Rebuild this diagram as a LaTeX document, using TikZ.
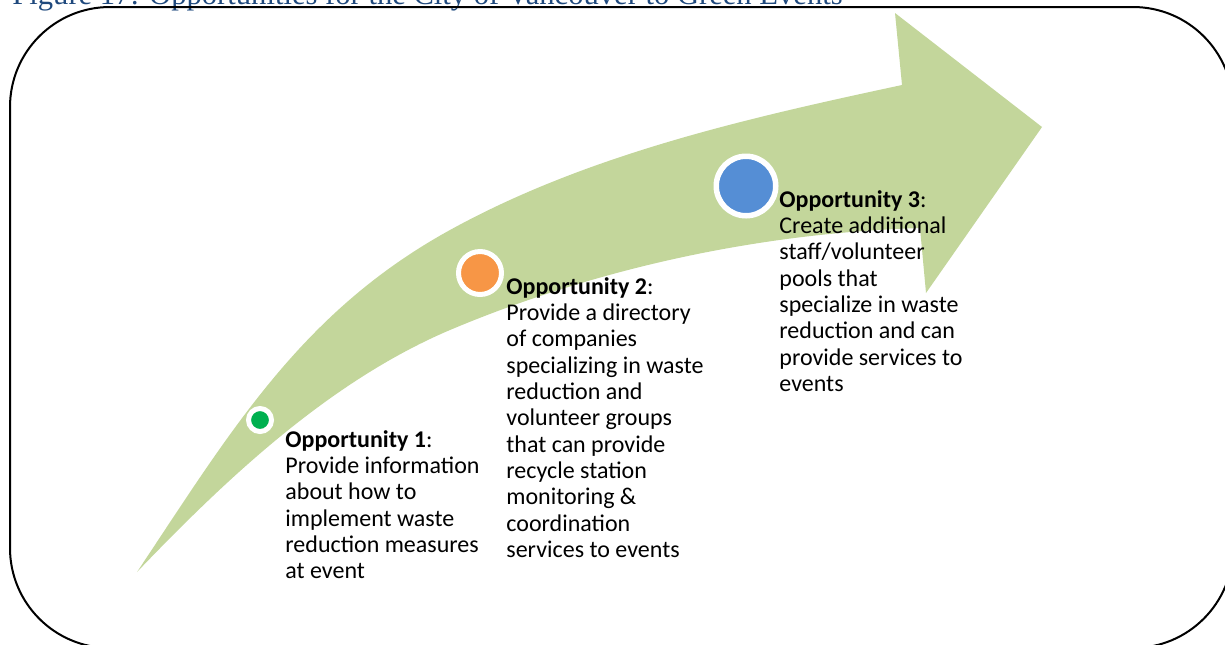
\documentclass[tikz,border=0pt]{standalone}
\usepackage{fontspec}
\setmainfont{Carlito}
\newfontfamily\capfont{Liberation Serif}
\usetikzlibrary{positioning}
\definecolor{arrowgreen}{HTML}{C3D69B}
\definecolor{dotgreen}{HTML}{00B050}
\definecolor{dotorange}{HTML}{F79646}
\definecolor{dotblue}{HTML}{558ED5}
\definecolor{capblue}{HTML}{1F497D}
\tikzset{
	oppdot/.style={circle, draw=white, line width=2.5pt, inner sep=0pt},
	opptext/.style={anchor=north west, inner sep=0pt, align=left,
		font=\fontsize{12}{13.17}\selectfont}
}
\begin{document}
\begin{tikzpicture}[x=0.5pt, y=-0.5pt]
	\useasboundingbox (0,0) rectangle (1225,644);
	\clip (0,0) rectangle (1225,644);
	% caption, cut off at the top
	\node[anchor=base west, inner sep=0pt, text=capblue, font=\capfont\fontsize{15.3}{17}\selectfont] (cap) at (12,4)
		{Figure 17: Opportunities for the City of Vancouver to Green Events};
	% frame
	\draw[line width=1pt, rounded corners=50pt] (10,7) rectangle (1233,648);
	% curved arrow
	\fill[arrowgreen] (137,572) .. controls (231,431) and (301,312) .. (450,230)
		.. controls (588,154) and (748,118) .. (902,85)
		-- (895,13) -- (1042,127) -- (926,293) -- (920,228)
		.. controls (760,233) and (597,268) .. (450,330)
		.. controls (330,381) and (227,478) .. (137,572) -- cycle;
	% dots
	\node[oppdot, fill=dotgreen, minimum size=11.5pt] (dot1) at (260,420) {};
	\node[oppdot, fill=dotorange, minimum size=21.5pt] (dot2) at (480,273) {};
	\node[oppdot, fill=dotblue, minimum size=29.75pt, line width=2.75pt] (dot3) at (746,186) {};
	% texts
	\node[opptext] (opp1) at (285,430) {\textbf{Opportunity 1}:\\Provide information\\about how to\\implement waste\\reduction measures\\at event};
	\node[opptext] (opp2) at (506,277) {\textbf{Opportunity 2}:\\Provide a directory\\of companies\\specializing in waste\\reduction and\\volunteer groups\\that can provide\\recycle station\\monitoring \&\\coordination\\services to events};
	\node[opptext] (opp3) at (779,190) {\textbf{Opportunity 3}:\\Create additional\\staff/volunteer\\pools that\\specialize in waste\\reduction and can\\provide services to\\events};
\end{tikzpicture}
\end{document}
